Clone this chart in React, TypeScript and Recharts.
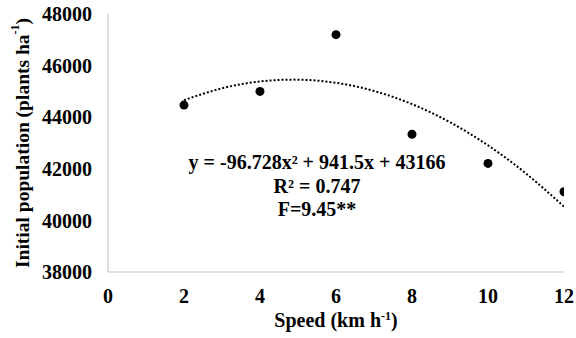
import React from "react"
import { ComposedChart, Line, Scatter, XAxis, YAxis, Label } from "recharts"

// observed points
const speeds = [2, 4, 6, 8, 10, 12]
const population = [44470, 45000, 47200, 43340, 42210, 41110]

// dotted polynomial trendline
const trendSpeeds = [2, 3, 4, 5, 6, 7, 8, 9, 10, 11, 12]
const trendPopulation = [44662, 45120, 45384, 45455, 45333, 45017, 44507, 43805, 42908, 41818, 40535]

const xTicks = [0, 2, 4, 6, 8, 10, 12]
const yTicks = [38000, 40000, 42000, 44000, 46000, 48000]

const pointData = speeds.map((x, i) => ({ x, y: population[i] }))
const trendData = trendSpeeds.map((x, i) => ({ x, t: trendPopulation[i] }))

const font = "Liberation Serif"
const tickStyle = { fontFamily: font, fontSize: 20, fontWeight: 700, fill: "#000" }

const YTitle = ({ viewBox }: any) => {
  const cx = 22
  const cy = viewBox.y + viewBox.height / 2
  return (
    <text
      x={cx}
      y={cy}
      transform={`rotate(-90 ${cx} ${cy})`}
      textAnchor="middle"
      dominantBaseline="central"
      fontFamily={font}
      fontSize={19.5}
      fontWeight={700}
      fill="#000"
    >
      Initial population (plants ha<tspan dy={-7} fontSize={12}>-1</tspan>
      <tspan dy={7}>)</tspan>
    </text>
  )
}

const XTitle = ({ viewBox }: any) => {
  const cx = viewBox.x + viewBox.width / 2
  return (
    <text x={cx} y={327} textAnchor="middle" fontFamily={font} fontSize={20} fontWeight={700} fill="#000">
      Speed (km h<tspan dy={-7} fontSize={12}>-1</tspan>
      <tspan dy={7}>)</tspan>
    </text>
  )
}

const Dot = (props: any) => <circle cx={props.cx} cy={props.cy} r={4.5} fill="#000" />

export default function App() {
  return (
    <div style={{ position: "fixed", left: 0, top: 0, width: 576, height: 338, background: "#fff" }}>
      <ComposedChart width={576} height={338} margin={{ top: 14, right: 12, bottom: 16, left: 0 }}>
        <XAxis
          type="number"
          dataKey="x"
          domain={[0, 12]}
          ticks={xTicks}
          allowDataOverflow
          stroke="#bfbfbf"
          tickLine={false}
          tickSize={0}
          tickMargin={17}
          tick={tickStyle}
          height={50}
        >
          <Label content={XTitle} />
        </XAxis>
        <YAxis
          type="number"
          domain={[38000, 48000]}
          ticks={yTicks}
          allowDataOverflow
          stroke="#bfbfbf"
          tickLine={false}
          tickSize={0}
          tickMargin={16}
          tick={tickStyle}
          width={108}
        >
          <Label content={YTitle} />
        </YAxis>
        <Line
          data={trendData}
          dataKey="t"
          type="natural"
          stroke="#000"
          strokeWidth={2}
          strokeDasharray="2 2"
          dot={false}
          activeDot={false}
          isAnimationActive={false}
        />
        <Scatter data={pointData} dataKey="y" shape={Dot} isAnimationActive={false} />
      </ComposedChart>
      <div
        style={{
          position: "absolute",
          left: 317,
          top: 151,
          transform: "translateX(-50%)",
          textAlign: "center",
          fontFamily: font,
          fontSize: 20,
          fontWeight: 700,
          lineHeight: "23.5px",
          whiteSpace: "nowrap",
          color: "#000",
        }}
      >
        <div>y = -96.728x² + 941.5x + 43166</div>
        <div>R² = 0.747</div>
        <div>F=9.45**</div>
      </div>
    </div>
  )
}
